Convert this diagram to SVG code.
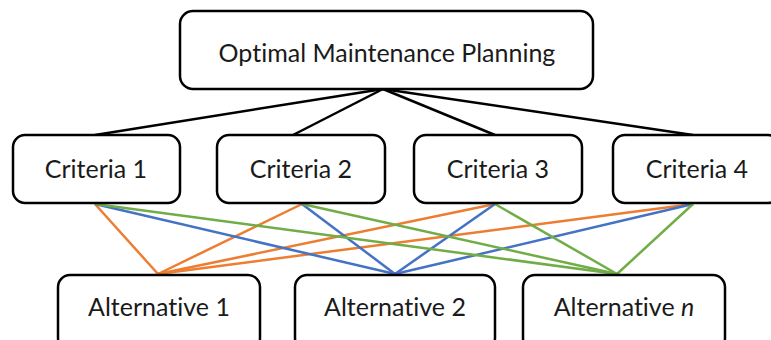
<svg xmlns="http://www.w3.org/2000/svg" width="771" height="340" viewBox="0 0 771 340">
<style>
.box{fill:#fff;stroke:#000;stroke-width:2.5}
.t{font-family:Lato,"Open Sans","Liberation Sans",sans-serif;font-size:25px;fill:#1a1a1a;text-anchor:middle;font-variant-ligatures:none;font-feature-settings:"liga" 0}
.k{stroke:#000;stroke-width:2.5;fill:none}
.o{stroke:#ED7D31;stroke-width:2.5;fill:none}
.b{stroke:#4472C4;stroke-width:2.5;fill:none}
.g{stroke:#70AD47;stroke-width:2.5;fill:none}
</style>
<rect width="771" height="340" fill="#fff"/>
<g id="connectors">
<line class="k" x1="383" y1="89" x2="95" y2="135"/>
<line class="k" x1="383" y1="89" x2="293" y2="135"/>
<line class="k" x1="383" y1="89" x2="495" y2="135"/>
<line class="k" x1="383" y1="89" x2="693" y2="135"/>
<line class="o" x1="95" y1="204" x2="158" y2="274"/>
<line class="o" x1="302" y1="204" x2="158" y2="274"/>
<line class="o" x1="495" y1="204" x2="158" y2="274"/>
<line class="o" x1="693" y1="204" x2="158" y2="274"/>
<line class="b" x1="95" y1="204" x2="395" y2="274"/>
<line class="b" x1="302" y1="204" x2="395" y2="274"/>
<line class="b" x1="495" y1="204" x2="395" y2="274"/>
<line class="b" x1="693" y1="204" x2="395" y2="274"/>
<line class="g" x1="95" y1="204" x2="617" y2="274"/>
<line class="g" x1="302" y1="204" x2="617" y2="274"/>
<line class="g" x1="495" y1="204" x2="617" y2="274"/>
<line class="g" x1="693" y1="204" x2="617" y2="274"/>
</g>
<g id="goal"><rect class="box" x="180" y="11" width="413" height="78" rx="13"/><text class="t" x="387" y="62">Optimal Maintenance Planning</text></g>
<g id="criteria1"><rect class="box" x="13" y="135" width="167" height="68" rx="12"/><text class="t" x="96" y="178">Criteria 1</text></g>
<g id="criteria2"><rect class="box" x="217" y="135" width="168" height="68" rx="12"/><text class="t" x="301" y="178">Criteria 2</text></g>
<g id="criteria3"><rect class="box" x="414" y="135" width="168" height="68" rx="12"/><text class="t" x="498" y="178">Criteria 3</text></g>
<g id="criteria4"><rect class="box" x="613" y="135" width="167" height="68" rx="12"/><text class="t" x="697" y="178">Criteria 4</text></g>
<g id="alt1"><rect class="box" x="58" y="275" width="202" height="75" rx="12"/><text class="t" x="159" y="316">Alternative 1</text></g>
<g id="alt2"><rect class="box" x="295" y="275" width="200" height="75" rx="12"/><text class="t" x="395" y="316">Alternative 2</text></g>
<g id="altn"><rect class="box" x="523" y="275" width="202" height="75" rx="12"/><text class="t" x="624" y="316">Alternative <tspan font-style="italic">n</tspan></text></g>
</svg>
